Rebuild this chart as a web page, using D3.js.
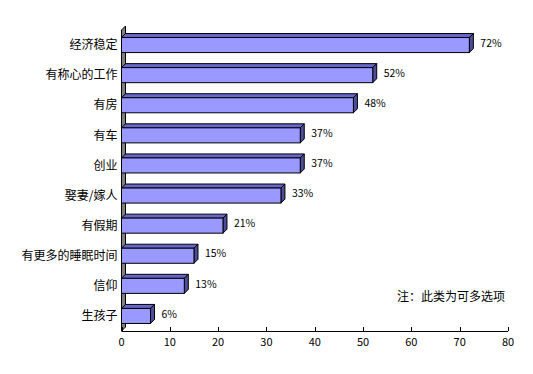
<!DOCTYPE html>
<html>
<head>
<meta charset="utf-8">
<script src="https://cdn.jsdelivr.net/npm/d3@7"></script>
<style>
  body { margin: 0; background: #fff; }
  text { font-family: "Noto Sans CJK SC", sans-serif; fill: #000; }
</style>
</head>
<body>
<div id="chart"></div>
<script>
// categories and values (percent)
const categories = ["经济稳定", "有称心的工作", "有房", "有车", "创业", "娶妻/嫁人", "有假期", "有更多的睡眠时间", "信仰", "生孩子"];
const values = [72, 52, 48, 37, 37, 33, 21, 15, 13, 6];
const xTicks = [0, 10, 20, 30, 40, 50, 60, 70, 80];
const note = "注：此类为可多选项";

const W = 533, H = 374;
const depth = 4;
const plotLeft = 121.5, plotRight = 508, plotTop = 30, plotBottom = 331;

const svg = d3.select("#chart").append("svg")
  .attr("width", W).attr("height", H);

const x = d3.scaleLinear().domain([0, 80]).range([plotLeft, plotRight]);
const y = d3.scaleBand().domain(categories).range([plotTop, plotBottom]).paddingInner(0.5).paddingOuter(0.25);

// left wall (3d)
svg.append("path")
  .attr("d", `M${plotLeft},${plotBottom} L${plotLeft},${plotTop} L${plotLeft + depth},${plotTop - depth} L${plotLeft + depth},${plotBottom - depth} Z`)
  .attr("fill", "#808080")
  .attr("stroke", "#000").attr("stroke-width", 1);

// x axis line
svg.append("line")
  .attr("x1", plotLeft).attr("x2", plotRight)
  .attr("y1", plotBottom + 0.5).attr("y2", plotBottom + 0.5)
  .attr("stroke", "#000");

// ticks (pointing up) and labels
svg.selectAll(".tick")
  .data(xTicks)
  .enter()
  .append("line")
  .attr("x1", d => Math.round(x(d)) + 0.5)
  .attr("x2", d => Math.round(x(d)) + 0.5)
  .attr("y1", plotBottom)
  .attr("y2", plotBottom - 4)
  .attr("stroke", "#000");

svg.selectAll(".tlabel")
  .data(xTicks)
  .enter()
  .append("text")
  .attr("x", d => x(d))
  .attr("y", plotBottom + 15)
  .attr("text-anchor", "middle")
  .style("font-size", "11px")
  .text(d => d);

const data = categories.map((c, i) => ({ cat: c, val: values[i] }));

const bars = svg.selectAll(".bar")
  .data(data)
  .enter()
  .append("g")
  .attr("class", "bar");

// top face
bars.append("path")
  .attr("d", d => {
    const y0 = y(d.cat), x0 = x(0), x1 = x(d.val);
    return `M${x0},${y0} L${x0 + depth},${y0 - depth} L${x1 + depth},${y0 - depth} L${x1},${y0} Z`;
  })
  .attr("fill", "#6666cc")
  .attr("stroke", "#000").attr("stroke-width", 1);

// right face
bars.append("path")
  .attr("d", d => {
    const y0 = y(d.cat), y1 = y0 + y.bandwidth(), x1 = x(d.val);
    return `M${x1},${y0} L${x1 + depth},${y0 - depth} L${x1 + depth},${y1 - depth} L${x1},${y1} Z`;
  })
  .attr("fill", "#4d4d99")
  .attr("stroke", "#000").attr("stroke-width", 1);

// front face
bars.append("rect")
  .attr("x", x(0))
  .attr("y", d => y(d.cat))
  .attr("width", d => x(d.val) - x(0))
  .attr("height", y.bandwidth())
  .attr("fill", "#9999ff")
  .attr("stroke", "#000").attr("stroke-width", 1);

// value labels
bars.append("text")
  .attr("x", d => x(d.val) + depth + 7)
  .attr("y", d => y(d.cat) + y.bandwidth() / 2 - 2)
  .attr("dy", "0.35em")
  .style("font-size", "10.5px")
  .text(d => d.val + "%");

// category labels
bars.append("text")
  .attr("x", plotLeft - 4)
  .attr("y", d => y(d.cat) + y.bandwidth() / 2)
  .attr("dy", "0.35em")
  .attr("text-anchor", "end")
  .style("font-size", "12px")
  .text(d => d.cat);

// note
svg.append("text")
  .attr("x", 397)
  .attr("y", 297)
  .attr("dy", "0.35em")
  .style("font-size", "12px")
  .text(note);
</script>
</body>
</html>
